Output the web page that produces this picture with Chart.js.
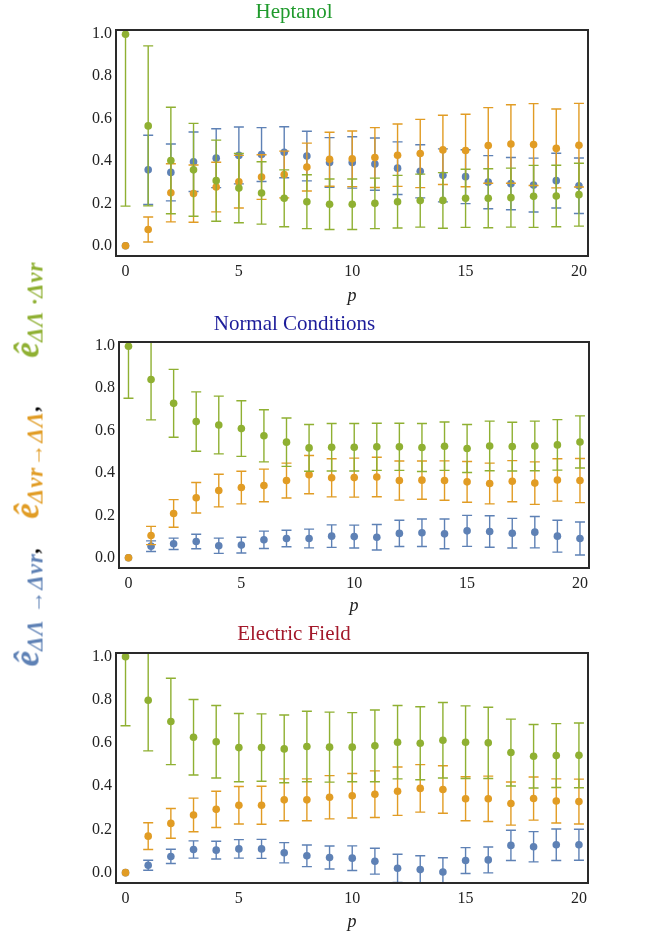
<!DOCTYPE html>
<html>
<head>
<meta charset="utf-8">
<script src="https://cdn.jsdelivr.net/npm/chart.js@4.4.0/dist/chart.umd.min.js"></script>
<style>
body { margin:0; background:#fff; width:646px; height:936px; position:relative; overflow:hidden; }
.panel { position:absolute; left:0; width:646px; }
#ylab { position:absolute; width:405px; height:44px; left:-175px; top:442px; transform:rotate(-90deg);
  display:flex; justify-content:space-between; align-items:center; white-space:nowrap;
  font-family:"Liberation Serif", serif; font-style:italic; font-weight:bold; }
#ylab .e { font-size:35px; }
#ylab sub { font-size:23px; position:relative; top:4px; vertical-align:baseline; letter-spacing:1px; }
#ylab .k { color:#000; font-size:22px; }
</style>
</head>
<body>
<div class="panel" style="top:0;height:310px"><canvas id="c1"></canvas></div>
<div class="panel" style="top:310px;height:310px"><canvas id="c2"></canvas></div>
<div class="panel" style="top:620px;height:316px"><canvas id="c3"></canvas></div>
<div id="ylab">
  <span style="color:#5E81B5"><span class="e">ê</span><sub>ΔΛ →Δvr</sub><span class="k">,</span></span>
  <span style="color:#E19C24;margin-right:19px"><span class="e">ê</span><sub>Δvr→ΔΛ</sub><span class="k">,</span></span>
  <span style="color:#8FB032"><span class="e">ê</span><sub>ΔΛ ·Δvr</sub></span>
</div>
<script>
var p = [0,1,2,3,4,5,6,7,8,9,10,11,12,13,14,15,16,17,18,19,20];
var xTicks = [0,5,10,15,20];
var yTicks = [0,0.2,0.4,0.6,0.8,1.0];

// Heptanol
var heptBlue = [0,0.358,0.346,0.396,0.413,0.426,0.430,0.441,0.423,0.393,0.393,0.385,0.366,0.351,0.332,0.326,0.300,0.293,0.286,0.307,0.283];
var heptBlueErr = [0,0.163,0.134,0.140,0.139,0.134,0.127,0.120,0.117,0.117,0.121,0.123,0.124,0.125,0.125,0.127,0.125,0.123,0.127,0.129,0.131];
var heptOrange = [0,0.077,0.250,0.246,0.277,0.302,0.324,0.336,0.371,0.408,0.410,0.416,0.427,0.435,0.452,0.449,0.473,0.480,0.477,0.459,0.474];
var heptOrangeErr = [0,0.059,0.137,0.135,0.117,0.124,0.105,0.110,0.113,0.127,0.131,0.141,0.147,0.161,0.163,0.171,0.178,0.185,0.193,0.186,0.197];
var heptGreen = [0.997,0.565,0.402,0.358,0.307,0.272,0.249,0.224,0.208,0.196,0.196,0.200,0.208,0.213,0.214,0.224,0.224,0.227,0.233,0.235,0.241];
var heptGreenErr = [0.81,0.377,0.251,0.219,0.191,0.163,0.147,0.134,0.127,0.119,0.119,0.119,0.124,0.125,0.131,0.137,0.139,0.139,0.146,0.145,0.148];

// Normal Conditions
var normBlue = [0,0.055,0.066,0.077,0.057,0.060,0.085,0.091,0.091,0.102,0.100,0.097,0.115,0.118,0.113,0.127,0.124,0.116,0.121,0.102,0.091];
var normBlueErr = [0,0.025,0.027,0.034,0.036,0.037,0.041,0.039,0.044,0.053,0.054,0.060,0.062,0.065,0.070,0.073,0.074,0.070,0.074,0.075,0.078];
var normOrange = [0,0.105,0.209,0.283,0.317,0.331,0.341,0.364,0.392,0.377,0.378,0.381,0.364,0.366,0.364,0.358,0.350,0.361,0.352,0.367,0.364];
var normOrangeErr = [0,0.043,0.065,0.072,0.077,0.077,0.077,0.082,0.090,0.090,0.092,0.093,0.092,0.090,0.093,0.096,0.096,0.097,0.100,0.100,0.104];
var normGreen = [0.997,0.840,0.728,0.642,0.626,0.609,0.575,0.545,0.518,0.521,0.521,0.523,0.523,0.520,0.526,0.515,0.527,0.524,0.527,0.532,0.546];
var normGreenErr = [0.245,0.190,0.160,0.140,0.136,0.131,0.123,0.114,0.110,0.112,0.112,0.111,0.111,0.113,0.114,0.113,0.117,0.115,0.117,0.119,0.123];

// Electric Field
var elecBlue = [0,0.034,0.075,0.107,0.104,0.110,0.110,0.092,0.078,0.070,0.067,0.053,0.020,0.014,0.003,0.056,0.059,0.126,0.120,0.129,0.129];
var elecBlueErr = [0,0.023,0.033,0.040,0.041,0.043,0.044,0.047,0.050,0.053,0.057,0.060,0.065,0.064,0.066,0.060,0.060,0.070,0.070,0.073,0.072];
var elecOrange = [0,0.169,0.228,0.267,0.293,0.312,0.312,0.337,0.337,0.349,0.356,0.363,0.377,0.390,0.385,0.342,0.342,0.320,0.343,0.332,0.329];
var elecOrangeErr = [0,0.062,0.069,0.078,0.084,0.087,0.088,0.097,0.097,0.100,0.103,0.108,0.112,0.110,0.110,0.102,0.105,0.100,0.100,0.102,0.104];
var elecGreen = [1.0,0.798,0.700,0.627,0.606,0.579,0.579,0.573,0.584,0.581,0.581,0.587,0.604,0.599,0.613,0.604,0.601,0.556,0.539,0.542,0.543];
var elecGreenErr = [0.32,0.234,0.200,0.175,0.168,0.158,0.156,0.157,0.163,0.162,0.160,0.166,0.170,0.169,0.175,0.168,0.165,0.155,0.147,0.148,0.150];

var BLUE = '#5E81B5', ORANGE = '#E19C24', GREEN = '#8FB032';
var SERIF = '"Liberation Serif", "Times New Roman", serif';

// error bars, drawn before each dataset's points
var errorBars = {
  id: 'errorBars',
  beforeDatasetDraw: function(chart, args) {
    var ds = chart.data.datasets[args.index];
    var xs = chart.scales.x, ys = chart.scales.y, a = chart.chartArea;
    var ctx = chart.ctx;
    ctx.save();
    ctx.beginPath();
    ctx.rect(a.left, a.top, a.right - a.left, a.bottom - a.top);
    ctx.clip();
    ctx.strokeStyle = ds.borderColor;
    ctx.lineWidth = 1.4;
    ds.data.forEach(function(d) {
      if (!d.e) return;
      var x = xs.getPixelForValue(d.x);
      var lo = ys.getPixelForValue(d.y - d.e), hi = ys.getPixelForValue(d.y + d.e);
      ctx.beginPath();
      ctx.moveTo(x, lo); ctx.lineTo(x, hi);
      ctx.moveTo(x - 5, lo); ctx.lineTo(x + 5, lo);
      ctx.moveTo(x - 5, hi); ctx.lineTo(x + 5, hi);
      ctx.stroke();
    });
    ctx.restore();
  }
};

// full frame round the plot area
var frame = {
  id: 'frame',
  afterDraw: function(chart) {
    var a = chart.chartArea, ctx = chart.ctx;
    ctx.save();
    ctx.strokeStyle = '#2a2a2a';
    ctx.lineWidth = 2;
    ctx.strokeRect(a.left, a.top, a.right - a.left, a.bottom - a.top);
    ctx.restore();
  }
};

function pts(vals, errs) {
  return p.map(function(x, i) { return { x: x, y: vals[i], e: errs[i] }; });
}

function makePanel(id, title, titleColor, series, box) {
  // blue first in the list but drawn under orange and green
  var datasets = series.map(function(s, i) {
    return {
      data: pts(s[0], s[1]),
      backgroundColor: s[2], borderColor: s[2],
      pointRadius: 3.8, pointBorderWidth: 0, showLine: false,
      order: series.length - i
    };
  });
  return new Chart(document.getElementById(id), {
    type: 'scatter',
    data: { datasets: datasets },
    plugins: [errorBars, frame],
    options: {
      responsive: true, maintainAspectRatio: false, animation: false,
      layout: { padding: { left: 0, right: box.right, top: 0, bottom: 0 } },
      plugins: {
        legend: { display: false }, tooltip: { enabled: false },
        title: { display: true, text: title, color: titleColor,
          font: { family: SERIF, size: 21, weight: 'normal' },
          padding: { top: box.tTop, bottom: box.tBottom } }
      },
      scales: {
        x: {
          type: 'linear', min: -0.42, max: 20.4,
          grid: { display: false, drawTicks: false }, border: { display: false },
          afterBuildTicks: function(s) { s.ticks = xTicks.map(function(v) { return { value: v }; }); },
          ticks: { padding: 6, color: '#222', font: { family: SERIF, size: 16 },
            callback: function(v) { return String(v); } },
          title: { display: true, text: 'p', color: '#222', padding: { top: 0, bottom: 3 },
            font: { family: SERIF, size: 18, style: 'italic' } },
          afterFit: function(s) { s.height = box.xh; }
        },
        y: {
          min: -0.048, max: 1.017,
          grid: { display: false, drawTicks: false }, border: { display: false },
          afterBuildTicks: function(s) { s.ticks = yTicks.map(function(v) { return { value: v }; }); },
          ticks: { padding: 4, color: '#222', font: { family: SERIF, size: 16 },
            callback: function(v) { return v.toFixed(1); } },
          afterFit: function(s) { s.width = box.left; }
        }
      }
    }
  });
}

makePanel('c1', 'Heptanol', '#1f9a2c',
  [[heptBlue, heptBlueErr, BLUE], [heptOrange, heptOrangeErr, ORANGE], [heptGreen, heptGreenErr, GREEN]],
  { left: 116, right: 58, xh: 54, tTop: 0, tBottom: 4.8 });
makePanel('c2', 'Normal Conditions', '#1c1c9a',
  [[normBlue, normBlueErr, BLUE], [normOrange, normOrangeErr, ORANGE], [normGreen, normGreenErr, GREEN]],
  { left: 119, right: 57, xh: 52, tTop: 1.4, tBottom: 5.4 });
makePanel('c3', 'Electric Field', '#a3182a',
  [[elecBlue, elecBlueErr, BLUE], [elecOrange, elecOrangeErr, ORANGE], [elecGreen, elecGreenErr, GREEN]],
  { left: 116, right: 58, xh: 53, tTop: 1.4, tBottom: 6.4 });
</script>
</body>
</html>
